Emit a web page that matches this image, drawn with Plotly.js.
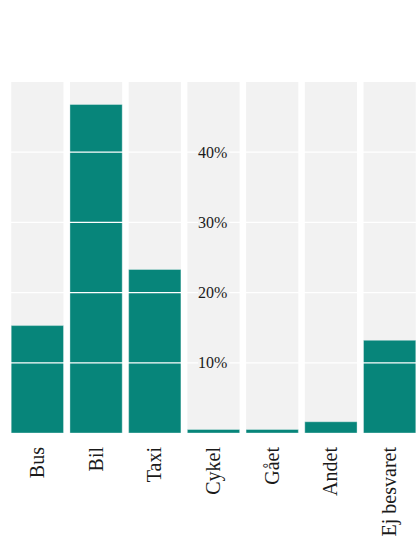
<!DOCTYPE html>
<html>
<head>
<meta charset="utf-8">
<script src="https://cdn.plot.ly/plotly-3.0.1.min.js"></script>
<style>
html,body{margin:0;padding:0;overflow:hidden;background:#fff;width:417px;height:542px;}
#chart{width:419px;height:542px;}
</style>
</head>
<body>
<div id="chart"></div>
<script>
const categories = ["Bus", "Bil", "Taxi", "Cykel", "Gået", "Andet", "Ej besvaret"];
const shares = [0.153, 0.468, 0.233, 0.005, 0.005, 0.016, 0.132];
const panelMax = [0.5, 0.5, 0.5, 0.5, 0.5, 0.5, 0.5];
const yTicks = [0.1, 0.2, 0.3, 0.4];
const yTickLabels = ["10%", "20%", "30%", "40%"];

const serif = "Liberation Serif, Times New Roman, serif";

const traces = [
  {
    type: "bar", x: categories, y: panelMax,
    marker: {color: "#f2f2f2", line: {width: 0}},
    hoverinfo: "skip", showlegend: false
  },
  {
    type: "bar", x: categories, y: shares,
    marker: {color: "#07857a", line: {width: 1, color: "rgba(255,255,255,0.35)"}},
    showlegend: false
  }
];

const gapL = 0.4628, gapR = 0.5382;
const shapes = [];
yTicks.forEach(v => {
  shapes.push({type: "line", xref: "paper", yref: "y", x0: 0, x1: gapL, y0: v, y1: v,
    line: {color: "#ffffff", width: 1.2}, layer: "above"});
  shapes.push({type: "line", xref: "paper", yref: "y", x0: gapR, x1: 1, y0: v, y1: v,
    line: {color: "#ffffff", width: 1.2}, layer: "above"});
});

const layout = {
  width: 419, height: 542,
  margin: {l: 7.6, r: 0, t: 82, b: 108.5},
  paper_bgcolor: "#ffffff", plot_bgcolor: "#ffffff",
  barmode: "overlay", bargap: 0.11,
  showlegend: false,
  font: {family: serif, color: "#1a1a1a"},
  xaxis: {
    type: "category", showgrid: false, zeroline: false, showline: false,
    tickangle: -90, ticks: "outside", ticklen: 5, tickcolor: "rgba(0,0,0,0)",
    tickfont: {family: serif, size: 20, color: "#1a1a1a"}
  },
  yaxis: {
    range: [0, 0.5], showgrid: false, zeroline: false, showline: false,
    tickvals: yTicks, ticktext: yTickLabels, ticks: "",
    anchor: "free", position: 0.5335, layer: "above traces",
    tickfont: {family: serif, size: 16, color: "#1a1a1a"}
  },
  shapes: shapes
};

Plotly.newPlot("chart", traces, layout, {displayModeBar: false, staticPlot: true});
</script>
</body>
</html>
